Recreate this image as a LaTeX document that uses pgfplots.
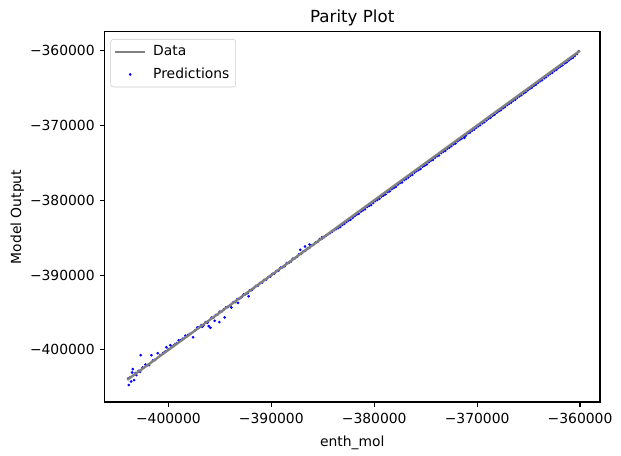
\documentclass[border=0pt]{standalone}
\usepackage{pgfplots}
\pgfplotsset{compat=1.18}
\usepackage{fontspec}
\setmainfont{DejaVu Sans}
\begin{document}
\begin{tikzpicture}
\begin{axis}[
  scale only axis,
  width=356.8pt, height=266.4pt,
  xmin=-406214, xmax=-358058,
  ymin=-406952, ymax=-357500,
  clip marker paths=true,
  axis line style={line width=0.8pt},
  tick align=outside,
  tick style={line width=0.8pt, black},
  major tick length=3.5pt,
  xtick={-400000,-390000,-380000,-370000,-360000},
  xticklabels={−400000,−390000,−380000,−370000,−360000},
  ytick={-400000,-390000,-380000,-370000,-360000},
  yticklabels={−400000,−390000,−380000,−370000,−360000},
  scaled ticks=false,
  xtick pos=bottom, ytick pos=left,
  tick label style={font=\fontsize{10}{12}\selectfont},
  xticklabel style={yshift=-1pt},
  xlabel={enth\_mol},
  ylabel={Model Output},
  label style={font=\fontsize{10}{12}\selectfont},
  xlabel style={at={(axis description cs:0.5,-0.11)}, anchor=center},
  ylabel style={at={(axis description cs:-0.176,0.5)}, anchor=center},
  title={Parity Plot},
  title style={font=\fontsize{12}{14}\selectfont, at={(axis description cs:0.5,1)}, anchor=south, yshift=-5.5pt},
  legend style={at={(axis description cs:0.012,0.981)}, anchor=north west,
    draw=black!20, rounded corners=2pt, font=\fontsize{10}{12}\selectfont,
    inner sep=2.5pt, row sep=3.5pt,
    /tikz/every odd column/.append style={column sep=3pt}},
  legend cell align=left,
]
\addplot[only marks, mark=*, mark size=0.75pt, color=blue, forget plot] table {
-403854 -404691
-403622 -404213
-403330 -404030
-403524 -403017
-403466 -402565
-403107 -403366
-402748 -402924
-402689 -400704
-402233 -401954
-401874 -402037
-401650 -400704
-401039 -400439
-400194 -399641
-399806 -399375
-399000 -398711
-398350 -398100
-397602 -398312
-403900 -403800
-403700 -403650
-403200 -403100
-402900 -402800
-402500 -402350
-402100 -402050
-401500 -401400
-401300 -401350
-400800 -400700
-400500 -400400
-400300 -400200
-400000 -399900
-399600 -399550
-399400 -399300
-399200 -399100
-398800 -398700
-398600 -398500
-398100 -398000
-397900 -397850
-397400 -397380
-397200 -397000
-397000 -396950
-396800 -396700
-396600 -396750
-396400 -396300
-396200 -396350
-396087 -396810
-395922 -397036
-396728 -396902
-395800 -395700
-395600 -395650
-395505 -396106
-395400 -395350
-395200 -395250
-395049 -396279
-395000 -394900
-394800 -394850
-394534 -395654
-394600 -394550
-394400 -394300
-394200 -394250
-394000 -394050
-393883 -394325
-393700 -393650
-393500 -393600
-393233 -393713
-393300 -393200
-393100 -393150
-392900 -392950
-392700 -392600
-392500 -392550
-392300 -392400
-392204 -392823
-392100 -392050
-391900 -392000
-391700 -391750
-391500 -391450
-391300 -391400
-391100 -391050
-390900 -391000
-390700 -390650
-390500 -390600
-390300 -390250
-390100 -390200
-389900 -389850
-389700 -389800
-389500 -389450
-389300 -389400
-389100 -389000
-388900 -388950
-388700 -388800
-388500 -388400
-388300 -388350
-388100 -388200
-387900 -387800
-387700 -387750
-387500 -387550
-387300 -387200
-387184 -386617
-387100 -387150
-386900 -386850
-386728 -386178
-386700 -386750
-386500 -386450
-386281 -385912
-386300 -386350
-386100 -386050
-385900 -385950
-385700 -385650
-385500 -385550
-385300 -385200
-385078 -384937
-385100 -385150
-384900 -384950
-384700 -384750
-384500 -384550
-384300 -384400
-384100 -384200
-383900 -384000
-383700 -383850
-383500 -383700
-383300 -383550
-383100 -383300
-382900 -383150
-382700 -382900
-382500 -382700
-382300 -382600
-382100 -382350
-381900 -382100
-381700 -381900
-381500 -381800
-381300 -381500
-381100 -381350
-380900 -381200
-380700 -380900
-380500 -380750
-380300 -380650
-380100 -380350
-379900 -380100
-379700 -379950
-379500 -379800
-379300 -379500
-379100 -379350
-378900 -379200
-378700 -378900
-378500 -378800
-378300 -378500
-378100 -378350
-377900 -378200
-377700 -377900
-377500 -377700
-377300 -377600
-377100 -377300
-376900 -377150
-376700 -376950
-376500 -376700
-376300 -376600
-376100 -376300
-375900 -376100
-375700 -375950
-375500 -375800
-375300 -375500
-375100 -375350
-374900 -375200
-374700 -374900
-374500 -374700
-374300 -374600
-374100 -374300
-373900 -374100
-373700 -374000
-373500 -373700
-373300 -373500
-373100 -373400
-372900 -373100
-372700 -372950
-372500 -372750
-372300 -372500
-372100 -372400
-371900 -372100
-371700 -371900
-371500 -371750
-371233 -371651
-371300 -371450
-371100 -371350
-370900 -371050
-370700 -370950
-370500 -370700
-370300 -370550
-370100 -370300
-369900 -370100
-369700 -369950
-369500 -369700
-369300 -369550
-369100 -369300
-368900 -369100
-368700 -368950
-368500 -368700
-368300 -368550
-368100 -368300
-367900 -368100
-367700 -367950
-367500 -367700
-367300 -367550
-367100 -367300
-366900 -367100
-366700 -366950
-366500 -366700
-366300 -366550
-366100 -366300
-365900 -366100
-365700 -365950
-365500 -365700
-365300 -365550
-365100 -365300
-364900 -365100
-364700 -364950
-364500 -364700
-364300 -364550
-364100 -364300
-363900 -364100
-363700 -363950
-363500 -363700
-363300 -363550
-363100 -363300
-362900 -363100
-362700 -362950
-362500 -362700
-362300 -362550
-362100 -362300
-361900 -362100
-361700 -361950
-361500 -361700
-361300 -361550
-361100 -361300
-360900 -361100
-360700 -360950
-360500 -360700
-360300 -360450
-360150 -360100
};
\addplot[color=gray, line width=1.7pt,
  legend image code/.code={\draw[gray, line width=1.5pt] (0pt,0pt) -- (21.6pt,0pt);}]
  coordinates {(-404000,-404000) (-360000,-360000)};
\addlegendentry{Data}
\addlegendimage{only marks, color=blue,
  legend image code/.code={\fill[blue] (10.8pt,0pt) circle (0.75pt);}}
\addlegendentry{Predictions}
\end{axis}
\pgfresetboundingbox
\path[use as bounding box] ([xshift=-75.2pt, yshift=-38.2pt]current axis.south west) rectangle ([xshift=15.1pt, yshift=23pt]current axis.north east);
\end{tikzpicture}
\end{document}
